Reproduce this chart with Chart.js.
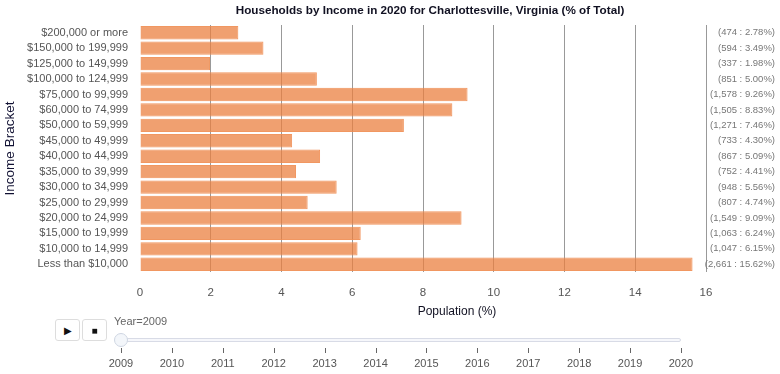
<!DOCTYPE html>
<html>
<head>
<meta charset="utf-8">
<script src="https://cdn.jsdelivr.net/npm/chart.js@4"></script>
<style>
  body { margin: 0; background: #fff; font-family: "Liberation Sans", Arial, sans-serif; }
  #wrap { position: relative; width: 780px; height: 374px; }
  #chart { position: absolute; left: 0; top: 0; }
  .btn { position: absolute; top: 319px; width: 25px; height: 22px; border: 1px solid #ddd; border-radius: 3px; background: #fff; box-sizing: border-box; font-size: 10px; color: #111; text-align: center; line-height: 21px; }
  #yearLabel { position: absolute; left: 114px; top: 315px; font-size: 11px; color: #666; }
  #track { position: absolute; left: 121px; top: 338px; width: 560px; height: 4px; background: #f6f7fb; border: 1px solid #d8dbe6; border-radius: 3px; box-sizing: border-box; }
  #knob { position: absolute; left: 114px; top: 333px; width: 14px; height: 14px; border-radius: 50%; background: #f3f6fa; border: 1px solid #cfd6e2; box-sizing: border-box; }
  .tick { position: absolute; top: 348px; width: 1px; height: 5px; background: #666; }
  .ylab { position: absolute; top: 357px; width: 40px; margin-left: -20px; text-align: center; font-size: 11px; color: #555; }
</style>
</head>
<body>
<div id="wrap">
  <canvas id="chart" width="780" height="325"></canvas>
  <div class="btn" style="left:55px">&#9654;</div>
  <div class="btn" style="left:82px">&#9632;</div>
  <div id="yearLabel">Year=2009</div>
  <div id="track"></div>
  <div id="knob"></div>
  <div id="years"></div>
</div>
<script>
// Income brackets, top to bottom as drawn
const brackets = [
    '$200,000 or more', '$150,000 to 199,999', '$125,000 to 149,999', '$100,000 to 124,999',
    '$75,000 to 99,999', '$60,000 to 74,999', '$50,000 to 59,999', '$45,000 to 49,999',
    '$40,000 to 44,999', '$35,000 to 39,999', '$30,000 to 34,999', '$25,000 to 29,999',
    '$20,000 to 24,999', '$15,000 to 19,999', '$10,000 to 14,999', 'Less than $10,000'
];
// Share of households (%)
const shares = [2.78, 3.49, 1.98, 5.00, 9.26, 8.83, 7.46, 4.30, 5.09, 4.41, 5.56, 4.74, 9.09, 6.24, 6.15, 15.62];
// Household counts
const counts = [474, 594, 337, 851, 1578, 1505, 1271, 733, 867, 752, 948, 807, 1549, 1063, 1047, 2661];
// Slider years
const years = [2009, 2010, 2011, 2012, 2013, 2014, 2015, 2016, 2017, 2018, 2019, 2020];
const xTicks = [0, 2, 4, 6, 8, 10, 12, 14, 16];

const FONT = '"Liberation Sans", Arial, sans-serif';

// slider ticks
const yearsBox = document.getElementById('years');
years.forEach(function(yr, i) {
    const x = 121 + i * (560 / (years.length - 1));
    const t = document.createElement('div');
    t.className = 'tick';
    t.style.left = x + 'px';
    yearsBox.appendChild(t);
    const l = document.createElement('div');
    l.className = 'ylab';
    l.style.left = x + 'px';
    l.textContent = yr;
    yearsBox.appendChild(l);
});

// title, x axis title and the count/share notes on the right
const overlay = {
    id: 'overlay',
    afterDraw: function(chart) {
        const ctx = chart.ctx;
        const y = chart.scales.y;
        ctx.save();
        ctx.fillStyle = '#111122';
        ctx.textAlign = 'center';
        ctx.textBaseline = 'middle';
        ctx.font = 'bold 11.7px ' + FONT;
        ctx.fillText('Households by Income in 2020 for Charlottesville, Virginia (% of Total)', 430, 11);
        ctx.font = '12px ' + FONT;
        ctx.fillText('Population (%)', 457, 312);
        ctx.font = '9.5px ' + FONT;
        ctx.fillStyle = '#777';
        ctx.textAlign = 'right';
        shares.forEach(function(s, i) {
            const label = '(' + counts[i].toLocaleString('en-US') + ' : ' + s.toFixed(2) + '%)';
            ctx.fillText(label, 775, y.getPixelForValue(i));
        });
        ctx.restore();
    }
};

new Chart(document.getElementById('chart'), {
    type: 'bar',
    data: {
        labels: brackets,
        datasets: [{
            data: shares,
            backgroundColor: 'rgba(235, 128, 64, 0.75)',
            borderColor: 'rgba(240, 140, 80, 0.9)',
            borderWidth: 1,
            barPercentage: 0.87,
            categoryPercentage: 1
        }]
    },
    options: {
        indexAxis: 'y',
        responsive: false,
        animation: false,
        layout: { padding: { top: 25, right: 74, left: 0, bottom: 0 } },
        plugins: {
            legend: { display: false },
            tooltip: { enabled: false }
        },
        scales: {
            x: {
                min: 0,
                max: 16,
                afterBuildTicks: function(scale) {
                    scale.ticks = xTicks.map(function(v) { return { value: v }; });
                },
                afterFit: function(scale) { scale.height = 53; },
                border: { display: false },
                grid: {
                    drawTicks: false,
                    color: function(c) { return c.tick && c.tick.value === 0 ? 'rgba(0,0,0,0)' : '#999'; },
                    lineWidth: 1
                },
                ticks: { padding: 14, color: '#555', font: { family: FONT, size: 11.5 } }
            },
            y: {
                afterFit: function(scale) { scale.width = 140; },
                border: { display: false },
                grid: { display: false, drawTicks: false },
                ticks: { autoSkip: false, padding: 12, color: '#555', font: { family: FONT, size: 11 } },
                title: {
                    display: true,
                    text: 'Income Bracket',
                    color: '#111133',
                    padding: { top: 2, bottom: 0 },
                    font: { family: FONT, size: 13.5 }
                }
            }
        }
    },
    plugins: [overlay]
});
</script>
</body>
</html>
